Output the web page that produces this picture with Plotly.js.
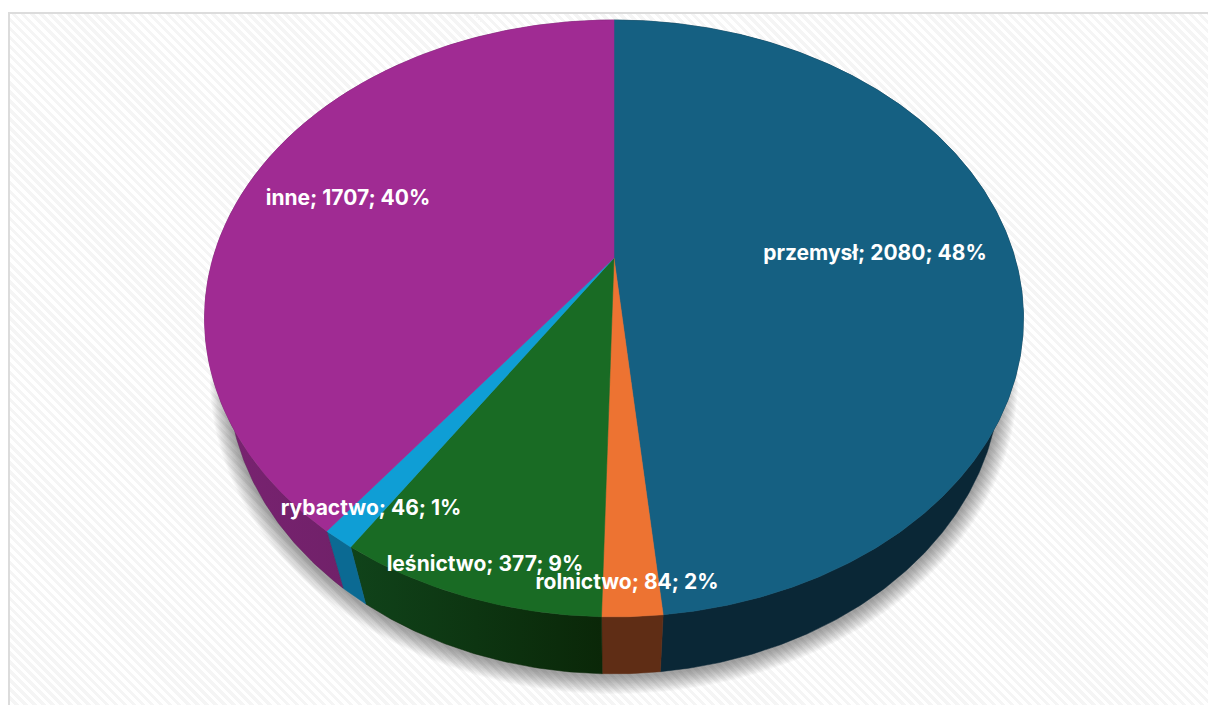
<!DOCTYPE html>
<html>
<head>
<meta charset="utf-8">
<script src="https://cdn.plot.ly/plotly-3.0.1.min.js"></script>
<style>
html,body{margin:0;padding:0;background:#fff;width:1208px;height:705px;overflow:hidden}
#panel{position:absolute;left:8px;top:12px;width:1200px;height:693px;box-sizing:border-box;
 border-left:2px solid #dcdcdc;border-top:2px solid #dcdcdc;
 background:repeating-linear-gradient(45deg,#ffffff 0,#ffffff 3.2px,#f5f5f5 3.2px,#f5f5f5 6.4px)}
#chart{position:absolute;left:0;top:0;width:1208px;height:705px}
</style>
</head>
<body>
<div id="panel"></div>
<div id="chart"></div>
<script>
const categories = ["przemysł", "rolnictwo", "leśnictwo", "rybactwo", "inne"];
const values = [2080, 84, 377, 46, 1707];
const topColors = ["#156082", "#ED7332", "#196B24", "#0F9ED5", "#A02B93"];
const wallLeft = ["#0A2736", "#5F2D15", "#10431A", "#0B6A93", "#7A2372"];
const wallRight = ["#0A2736", "#5F2D15", "#0A2708", "#0B6A93", "#5E1C58"];
const labelX = [875, 627, 485, 371, 348];
const labelY = [255, 584, 566, 510, 200];

// View geometry of the tilted disc (pixel-sized axes)
const cx = 614, cy = 258, persp = 0.2025, A = 286.2, B = 401, depth = 57, taper = 0.943;
function rim(theta) {
  const u = Math.sin(theta), v = Math.cos(theta), w = 1 + persp * v;
  return [cx + B * u / w, cy - A * v / w];
}
function lower(p) { return [cx + (p[0] - cx) * taper, p[1] + depth]; }
function arc(a0, a1) {
  const n = Math.max(2, Math.ceil(Math.abs(a1 - a0) * 180 / Math.PI * 2));
  const out = [];
  for (let i = 0; i <= n; i++) out.push(rim(a0 + (a1 - a0) * i / n));
  return out;
}

const total = values.reduce((s, v) => s + v, 0);
const bounds = [0];
values.forEach(v => bounds.push(bounds[bounds.length - 1] + v / total * 2 * Math.PI));

const traces = [];
const poly = (pts, extra) => Object.assign({
  type: "scatter", mode: "lines", x: pts.map(p => p[0]), y: pts.map(p => p[1]),
  fill: "toself", hoverinfo: "skip", showlegend: false
}, extra);

// soft shadow under the disc
for (let k = 0; k < 18; k++) {
  const pts = arc(0, 2 * Math.PI).map(p => {
    const q = lower(p), ex = 318 + depth;
    return [cx + (q[0] - cx) * (1 + (k + 1) / 386), ex + 2 + (q[1] - ex) * (1 + (k + 1) / 297)];
  });
  traces.push(poly(pts, { line: { width: 0 }, fillcolor: "rgba(40,40,40,0.028)" }));
}

// side walls
values.forEach((v, i) => {
  const up = arc(bounds[i], bounds[i + 1]);
  const pts = up.concat(up.slice().reverse().map(lower));
  pts.push(pts[0]);
  traces.push(poly(pts, {
    line: { width: 0.5, color: wallRight[i] },
    fillcolor: wallRight[i],
    fillgradient: { type: "horizontal", colorscale: [[0, wallLeft[i]], [1, wallRight[i]]] }
  }));
});

// top surface
values.forEach((v, i) => {
  const pts = [[cx, cy]].concat(arc(bounds[i], bounds[i + 1]));
  pts.push([cx, cy]);
  traces.push(poly(pts, { line: { width: 0.5, color: topColors[i] }, fillcolor: topColors[i], name: categories[i] }));
});

// data labels
traces.push({
  type: "scatter", mode: "text", x: labelX, y: labelY, hoverinfo: "skip", showlegend: false,
  text: categories.map((c, i) => c + "; " + values[i] + "; " + Math.round(values[i] / total * 100) + "%"),
  textposition: "middle center", cliponaxis: false,
  textfont: { family: "Inter, 'Open Sans', sans-serif", size: 21, color: "#ffffff", weight: 700 }
});

Plotly.newPlot("chart", traces, {
  width: 1208, height: 705, margin: { l: 0, r: 0, t: 0, b: 0 },
  paper_bgcolor: "rgba(0,0,0,0)", plot_bgcolor: "rgba(0,0,0,0)", showlegend: false,
  xaxis: { range: [0, 1208], visible: false, fixedrange: true },
  yaxis: { range: [705, 0], visible: false, fixedrange: true }
}, { displayModeBar: false, staticPlot: true });
</script>
</body>
</html>
